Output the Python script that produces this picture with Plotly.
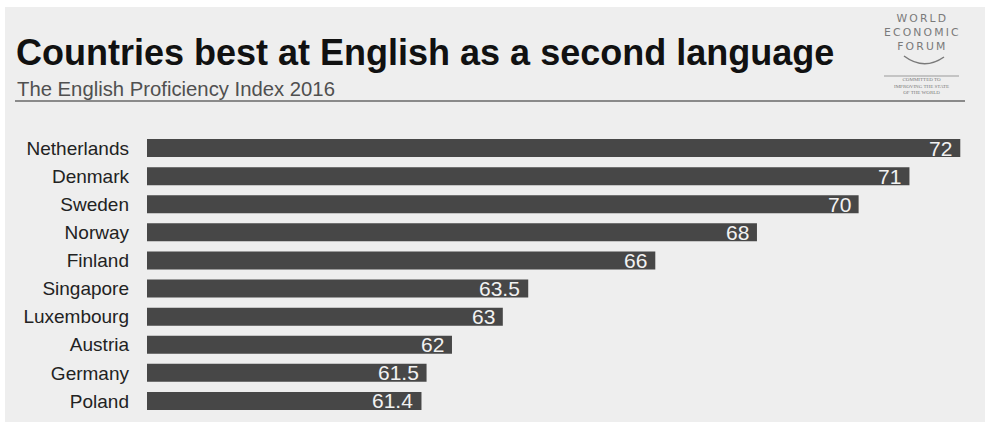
import plotly.graph_objects as go

countries = ["Netherlands", "Denmark", "Sweden", "Norway", "Finland",
             "Singapore", "Luxembourg", "Austria", "Germany", "Poland"]
scores = [72, 71, 70, 68, 66, 63.5, 63, 62, 61.5, 61.4]

title_text = "Countries best at English as a second language"
subtitle_text = "The English Proficiency Index 2016"
logo_lines = ["WORLD", "ECONOMIC", "FORUM"]
logo_small = ["COMMITTED TO", "IMPROVING THE STATE", "OF THE WORLD"]

W, H = 985, 422
L, R, T, B = 147, 985, 134, 415


def px(x):
    return (x - L) / (R - L)


def py(y):
    return (B - y) / (B - T)


def spaced(s):
    return "\u2009".join(s)


fig = go.Figure()
fig.add_trace(go.Bar(
    x=scores, y=countries, orientation="h",
    marker=dict(color="#474747", line=dict(width=0)),
    hoverinfo="skip",
))

annotations = []
for c, v in zip(countries, scores):
    annotations.append(dict(
        x=v, y=c, xref="x", yref="y", text=f"{v:g}", showarrow=False,
        xanchor="right", yanchor="middle", xshift=-6,
        font=dict(family="Liberation Sans, Arial, sans-serif", size=21, color="#f2f2f2"),
    ))

annotations.append(dict(
    x=px(14), y=py(53), xref="paper", yref="paper", text=f"<b>{title_text}</b>",
    showarrow=False, xanchor="left", yanchor="middle",
    font=dict(family="Liberation Sans, Arial, sans-serif", size=36, color="#111111"),
))
annotations.append(dict(
    x=px(15), y=py(89), xref="paper", yref="paper", text=subtitle_text,
    showarrow=False, xanchor="left", yanchor="middle",
    font=dict(family="Liberation Sans, Arial, sans-serif", size=20.3, color="#505050"),
))
annotations.append(dict(
    x=px(921), y=py(33), xref="paper", yref="paper",
    text="<br>".join(spaced(t) for t in logo_lines),
    showarrow=False, xanchor="center", yanchor="middle", align="center", borderpad=0,
    font=dict(family="DejaVu Sans, sans-serif", size=10.8, color="#7a7a7a"),
))
annotations.append(dict(
    x=px(921), y=py(86.5), xref="paper", yref="paper",
    text="<br>".join(logo_small),
    showarrow=False, xanchor="center", yanchor="middle", align="center", borderpad=0,
    font=dict(family="Liberation Serif, serif", size=5, color="#7a7a7a"),
))

shapes = [
    dict(type="rect", xref="paper", yref="paper", x0=px(5), x1=px(995),
         y0=py(7), y1=py(430), fillcolor="#eeeeee", line=dict(width=0), layer="below"),
    dict(type="line", xref="paper", yref="paper", x0=px(15), x1=px(965),
         y0=py(101), y1=py(101), line=dict(color="#8a8a8a", width=2)),
    dict(type="line", xref="paper", yref="paper", x0=px(884), x1=px(959),
         y0=py(76), y1=py(76), line=dict(color="#9a9a9a", width=1)),
    dict(type="path", xref="paper", yref="paper",
         path=f"M {px(904)},{py(56)} Q {px(924)},{py(71)} {px(944)},{py(57)}",
         line=dict(color="#7a7a7a", width=1.5)),
]

fig.update_layout(
    width=W, height=H,
    margin=dict(l=L, r=W - R, t=T, b=H - B, pad=0),
    paper_bgcolor="white", plot_bgcolor="rgba(0,0,0,0)",
    showlegend=False, bargap=0.36,
    xaxis=dict(range=[56, 56 + (R - L) / 50.83], visible=False, fixedrange=True),
    yaxis=dict(autorange="reversed", showgrid=False, zeroline=False, showline=False,
               ticks="", ticklabelstandoff=17,
               tickfont=dict(family="Liberation Sans, Arial, sans-serif", size=19, color="#222222")),
    annotations=annotations, shapes=shapes,
)

fig.write_html("out.html")
